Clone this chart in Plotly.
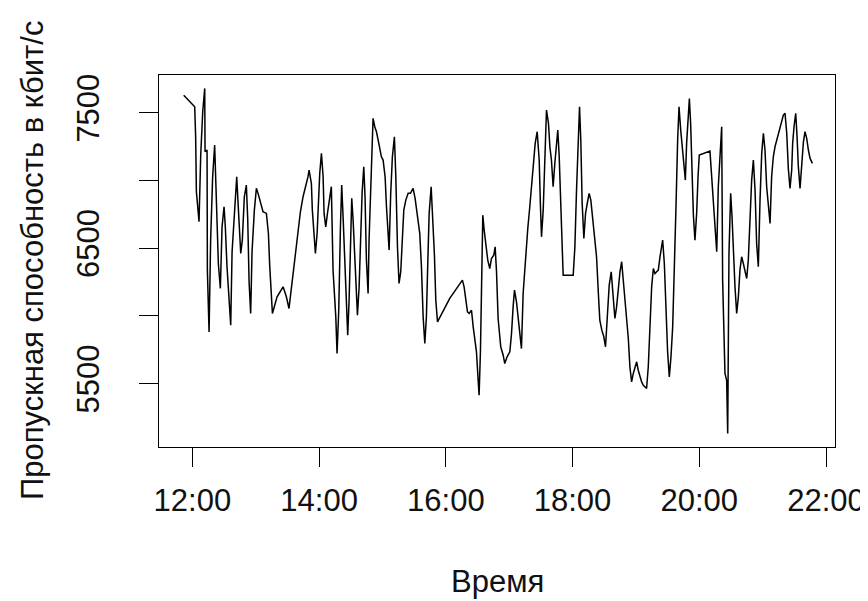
import pandas as pd
import plotly.graph_objects as go

# Minutes after 12:00 and throughput values (kbit/s)
minutes_a = [-8.2, 2.2, 3.1, 3.8, 6.3, 7.9, 9.8, 11.7, 12.0, 13.9, 14.2, 15.8, 17.3, 19.2, 21.1, 23.3, 24.6, 26.5, 28.1, 30.0,
             31.2, 32.8, 34.4, 36.3, 37.6, 40.1, 42.0, 43.2, 44.8, 45.8, 47.3, 49.2, 51.1, 52.4, 53.7, 55.2, 56.5, 58.7, 60.6, 62.2,
             66.9, 70.1, 72.0, 73.2, 75.8, 80.2]
values_a = [7630, 7545, 7323, 6917, 6695, 7188, 7508, 7680, 7212, 7225, 6338, 5882, 6560, 7028, 7262, 6732, 6387, 6203, 6658, 6806,
            6658, 6363, 6116, 5932, 6474, 6831, 7028, 6843, 6597, 6461, 6560, 6880, 6966, 6720, 6252, 6018, 6474, 6781, 6942, 6905,
            6769, 6757, 6609, 6375, 6018, 6141]

minutes_b = [85.9, 89.0, 91.5, 93.8, 96.0, 97.9, 100.1, 102.3, 104.8, 107.3, 109.5, 110.5, 112.7, 113.6, 115.2, 116.5, 118.1, 119.0,
             120.6, 122.2, 123.8, 124.7, 126.3, 127.9, 130.1, 131.6, 133.2, 135.8, 137.0, 138.6, 140.2, 141.4, 142.7, 144.3, 145.9,
             147.1, 148.4, 149.6, 150.9, 152.2, 153.8, 155.0, 156.3, 157.9, 159.1, 160.7, 162.3, 163.5, 164.8, 166.4, 167.3, 168.6,
             170.2, 171.1, 172.7, 174.3, 175.9, 177.4, 179.0, 180.6, 182.5, 183.8, 185.3, 186.3]
values_b = [6215, 6141, 6055, 6215, 6326, 6461, 6646, 6769, 6880, 6954, 7028, 7077, 6978, 6781, 6584, 6461, 6609, 6831,
            7052, 7200, 7028, 6757, 6658, 6757, 6880, 6954, 6338, 5993, 5722, 6042, 6658, 6966, 6732, 6412, 6067,
            5858, 6116, 6609, 6868, 6707, 6437, 6166, 6006, 6215, 6560, 6905, 7102, 6880, 6412, 6166, 6560, 6831,
            7225, 7459, 7397, 7360, 7299, 7225, 7175, 7151, 7028, 6806, 6609, 6486]

minutes_c = [187.8, 189.4, 191.3, 192.6, 194.2, 195.7, 197.3, 198.9, 200.2, 202.1, 204.3, 206.5, 209.0, 210.9, 213.1, 215.3, 216.9,
             218.5, 220.1, 221.6, 222.9, 224.2, 226.1, 227.3, 229.2, 230.5, 232.1, 243.7, 255.7, 257.3, 258.9, 260.5, 262.1, 264.3,
             265.9, 267.4, 269.0, 270.6, 271.5, 272.8, 274.1, 275.0, 276.3, 277.8, 279.7, 281.6, 283.2, 285.4, 286.7, 288.0, 289.5]
values_c = [6905, 7175, 7323, 7040, 6510, 6240, 6326, 6658, 6781, 6855, 6905, 6905, 6942, 6868, 6732, 6609, 6363,
            5993, 5796, 5993, 6387, 6757, 6954, 6769, 6449, 6116, 5956, 6129, 6264, 6215, 6116, 6030, 6018, 6042,
            5919, 5846, 5735, 5525, 5414, 5747, 6400, 6744, 6634, 6535, 6412, 6350, 6424, 6449, 6510, 6326, 5981]

minutes_d = [292.0, 294.3, 295.8, 298.0, 300.6, 302.2, 303.7, 305.0, 306.9, 308.5, 310.0, 311.6, 313.2, 315.4, 317.6, 319.5, 321.1,
             322.7, 324.6, 326.5, 328.4, 329.6, 330.6, 332.2, 333.7, 335.3, 337.2, 338.5, 340.0, 341.6, 343.2, 344.8, 346.0, 347.3,
             348.9, 350.2, 351.1, 360.6, 362.2, 363.7, 365.6, 366.6, 367.8, 369.1, 370.7, 372.3, 374.2, 375.7, 377.3, 378.9, 380.8,
             382.7, 384.6, 385.8, 387.7, 389.6, 391.2, 393.1, 394.7, 396.6]
values_d = [5772, 5710, 5648, 5698, 5735, 5870, 6067, 6190, 6104, 5993, 5895, 5759, 6166, 6437, 6646, 6806, 6966,
            7114, 7274, 7360, 7151, 6806, 6584, 6781, 7151, 7520, 7422, 7249, 7151, 6954, 7126, 7262, 7372, 7188,
            6831, 6486, 6301, 6301, 6510, 6917, 7336, 7545, 7299, 6831, 6572, 6757, 6843, 6905, 6855, 6732, 6634,
            6437, 6141, 5969, 5895, 5846, 5772, 6042, 6227, 6326]

minutes_e = [398.6, 400.1, 401.7, 403.3, 404.9, 406.5, 408.0, 409.6, 411.2, 412.8, 414.3, 415.9, 417.5, 419.1, 420.7, 422.2, 423.8,
             425.4, 427.0, 430.1, 431.7, 433.3, 434.9, 436.5, 438.0, 439.6, 441.2, 442.8, 444.3, 445.3, 446.9, 448.5, 450.0, 451.6,
             453.2, 454.8, 456.4, 457.9, 459.5, 460.8, 462.4, 463.9, 465.5, 466.8, 468.0, 469.3, 470.6, 471.8, 473.1, 474.4, 475.9,
             477.5, 478.8, 480.0, 490.1, 491.7, 493.3, 494.9, 496.5, 498.0, 499.6]
values_e = [6141, 5981, 6067, 6215, 6326, 6400, 6264, 6166, 6018, 5833, 5624, 5513, 5575, 5624, 5661, 5599, 5550,
            5513, 5488, 5464, 5624, 5919, 6215, 6350, 6313, 6326, 6338, 6437, 6510, 6560, 6387, 6042, 5735, 5550,
            5698, 5919, 6289, 6794, 7299, 7545, 7372, 7249, 7102, 7003, 7274, 7446, 7606, 7422, 7077, 6744, 6560,
            6757, 7028, 7188, 7217, 7028, 6831, 6658, 6474, 6954, 7225]

minutes_f = [501.2, 502.1, 504.3, 505.9, 506.9, 508.1, 509.7, 511.0, 512.2, 513.8, 515.4, 517.0, 518.5, 520.1, 521.7, 523.3, 524.9,
             526.4, 528.0, 529.6, 531.2, 532.8, 534.3, 535.9, 537.5, 539.1, 540.7, 542.2, 543.8, 545.4, 547.0, 548.5, 550.1, 551.7,
             553.3, 554.9, 556.4, 558.0, 559.6, 561.2, 562.8, 564.3, 565.9, 567.5, 568.4, 569.7, 571.3, 572.5, 573.8, 575.4, 577.0,
             578.6, 580.1, 581.7, 583.3, 584.9, 587.1]
values_f = [7397, 6264, 5575, 5525, 5131, 6461, 6905, 6732, 6461, 6215, 6018, 6141, 6338, 6437, 6387, 6338, 6276,
            6412, 6707, 7003, 7151, 6929, 6535, 6363, 6855, 7200, 7348, 7225, 6954, 6806, 6683, 7028, 7175, 7249,
            7299, 7348, 7397, 7434, 7483, 7496, 7348, 7089, 6942, 7077, 7274, 7397, 7496, 7336, 7102, 6942, 7151,
            7286, 7360, 7311, 7225, 7163, 7126]

y_tick_values = [5500, 6000, 6500, 7000, 7500]
y_tick_labels = ["5500", "", "6500", "", "7500"]
x_title = "Время"
y_title = "Пропускная способность в кбит/с"

minutes = minutes_a + minutes_b + minutes_c + minutes_d + minutes_e + minutes_f
values = values_a + values_b + values_c + values_d + values_e + values_f
if len(minutes) != len(values):
    raise ValueError(f"length mismatch {len(minutes)} {len(values)}")

base = pd.Timestamp("2000-01-01 12:00")
times = base + pd.to_timedelta(minutes, unit="m")

FONT = "Liberation Sans, Arial, sans-serif"
FS = 31

fig = go.Figure(go.Scatter(x=times, y=values, mode="lines",
                           line=dict(color="black", width=1.5), hoverinfo="skip"))

axis_common = dict(showgrid=False, zeroline=False, showline=True, linecolor="black", linewidth=1,
                   mirror=True, ticks="outside", ticklen=19, tickwidth=1, tickcolor="black",
                   automargin=False,
                   tickfont=dict(family=FONT, size=FS, color="#111"))

# The page body adds an 8px offset on the left and top, so the figure is 8px smaller
fig.update_layout(
    width=860, height=593, autosize=False,
    margin=dict(l=151, r=33, t=67, b=154),
    paper_bgcolor="white", plot_bgcolor="white",
    showlegend=False,
    xaxis=dict(type="date", range=["2000-01-01 11:28:24", "2000-01-01 22:08:30"],
               tick0="2000-01-01 12:00", dtick=2 * 3600 * 1000, tickformat="%H:%M",
               ticklabelstandoff=7, **axis_common),
    yaxis=dict(range=[5032, 7779], tickvals=y_tick_values, ticktext=y_tick_labels,
               tickangle=-90, ticklabelstandoff=28, **axis_common),
    annotations=[
        dict(text=x_title, xref="paper", yref="paper", x=0.5, y=0, xanchor="center", yanchor="middle",
             yshift=-134, showarrow=False, font=dict(family=FONT, size=FS, color="#111")),
        dict(text=y_title, xref="paper", yref="paper", x=0, y=0.5, xanchor="center", yanchor="middle",
             xshift=-127, textangle=-90, showarrow=False, font=dict(family=FONT, size=FS, color="#111")),
    ],
)

fig.write_html("out.html")
